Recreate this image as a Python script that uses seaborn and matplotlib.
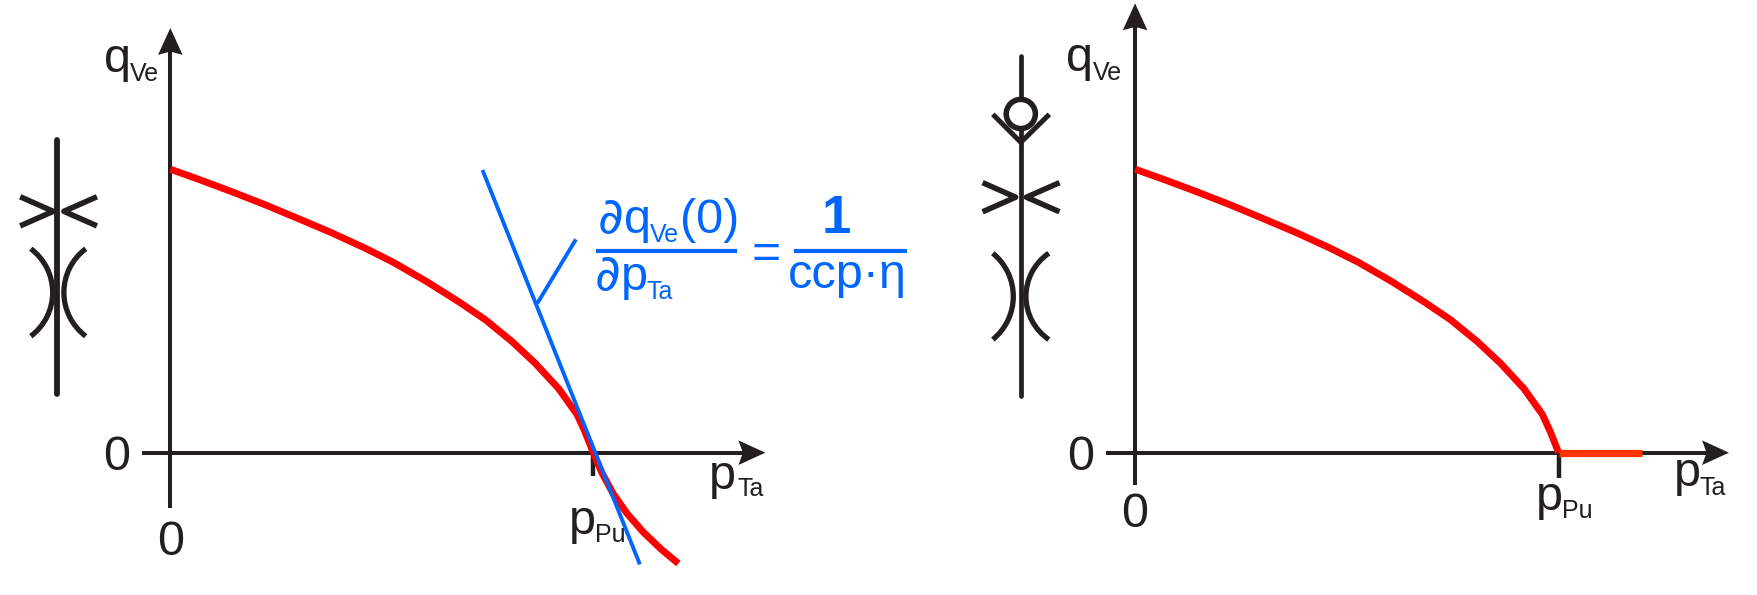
#!/usr/bin/env python3

import numpy as np
import pandas as pd
from matplotlib import pyplot as plt
from matplotlib.patches import Arc, Circle, Polygon
import seaborn as sns

# pressure is in units of p_Pu, flow in units of q_Ve(p=0)
p_left = [0, 0.0657, 0.1447, 0.2234, 0.3021, 0.381, 0.4598, 0.5267, 0.6057, 0.6844, 0.7447, 0.8078,
          0.8629, 0.918, 0.9615, 0.98, 1.0, 1.02, 1.047, 1.08, 1.118, 1.16, 1.201]
q_left = [1, 0.965, 0.921, 0.875, 0.826, 0.776, 0.722, 0.672, 0.604, 0.53, 0.469, 0.392,
          0.315, 0.226, 0.135, 0.075, 0.0, -0.07, -0.145, -0.215, -0.28, -0.34, -0.391]
p_tangent = [0.738, 1.11]
q_tangent = [0.997, -0.394]
p_right = [0, 0.0657, 0.1447, 0.2234, 0.3021, 0.381, 0.4598, 0.5267, 0.6057, 0.6844, 0.7447, 0.8078,
           0.8629, 0.918, 0.9615, 0.98, 1.0]
q_right = [1, 0.965, 0.921, 0.875, 0.826, 0.776, 0.722, 0.672, 0.604, 0.53, 0.469, 0.392,
           0.315, 0.226, 0.135, 0.075, 0.0]
p_flat = [1.0, 1.197]
q_flat = [0, 0]

BLACK = '#231f20'
RED = '#ff0000'
ORANGE = '#ff3300'
BLUE = '#0066ff'
W, H = 1568, 531

sns.set_style('white')
plt.rcParams['font.family'] = ['Liberation Sans', 'DejaVu Sans']

fig = plt.figure(figsize=(17.57, 5.95), dpi=100)

# overlay for axes arrows, symbols and labels
deco = fig.add_axes([0, 0, 1, 1], zorder=0)
deco.set_xlim(0, W)
deco.set_ylim(H, 0)
deco.axis('off')


def line(xs, ys, color=BLACK, lw=2.9, cap='butt', z=2):
    deco.plot(xs, ys, color=color, lw=lw, solid_capstyle=cap, zorder=z)


def arc(x0, y0, xm, y1, lw=3.8):
    # circular arc through both ends and the point nearest the centre line
    sag = abs(xm - x0)
    half = (y1 - y0) / 2
    r = (half ** 2 + sag ** 2) / (2 * sag)
    t = np.degrees(np.arcsin(half / r))
    if xm > x0:
        patch = Arc((xm - r, (y0 + y1) / 2), 2 * r, 2 * r, theta1=-t, theta2=t, color=BLACK, lw=lw, zorder=3)
    else:
        patch = Arc((xm + r, (y0 + y1) / 2), 2 * r, 2 * r, theta1=180 - t, theta2=180 + t, color=BLACK, lw=lw, zorder=3)
    deco.add_patch(patch)


def chevrons(xl, xr, y, spread_x, spread_y, lw=4.0):
    line([xl - spread_x, xl, xl - spread_x], [y - spread_y, y, y + spread_y], lw=lw)
    line([xr + spread_x, xr, xr + spread_x], [y - spread_y, y, y + spread_y], lw=lw)


def label(x, y, main, sub, sub_x, sub_y, color=BLACK):
    deco.text(x, y, main, fontsize=35, color=color, va='baseline', ha='left')
    deco.text(sub_x, sub_y, sub, fontsize=18, color=color, va='baseline', ha='left')


def draw_axes(ox, oy, top, bottom, left, right):
    line([ox, ox], [top + 15, bottom])
    line([left, right - 15], [oy, oy])
    deco.add_patch(Polygon([(ox, top), (ox - 11, top + 24), (ox, top + 21), (ox + 11, top + 24)],
                           fc=BLACK, ec='none', zorder=2))
    deco.add_patch(Polygon([(right, oy), (right - 24, oy - 11), (right - 20, oy), (right - 24, oy + 11)],
                           fc=BLACK, ec='none', zorder=2))


def panel(ox, oy, ux, uy):
    # transparent axes whose data units map onto the drawn axes
    x0, x1, y0, y1 = -0.2, 1.5, -0.5, 1.2
    ax = fig.add_axes([(ox + x0 * ux) / W, (H - oy + y0 * uy) / H,
                       (x1 - x0) * ux / W, (y1 - y0) * uy / H], zorder=1)
    ax.set_xlim(x0, x1)
    ax.set_ylim(y0, y1)
    ax.patch.set_alpha(0)
    ax.axis('off')
    return ax


def curve(ax, ps, qs, color, lw, z=3):
    df = pd.DataFrame({'p': ps, 'q': qs})
    sns.lineplot(data=df, x='p', y='q', ax=ax, color=color, lw=lw, sort=False, estimator=None,
                 legend=False, clip_on=False, solid_capstyle='butt', solid_joinstyle='round', zorder=z)


# left chart
draw_axes(152, 404, 25, 453, 127, 683)
line([529.5, 529.5], [404, 425], lw=3.2)
ax1 = panel(152, 404, 377.5, 253)
curve(ax1, p_left, q_left, RED, 5.0)
curve(ax1, p_tangent, q_tangent, BLUE, 2.8, z=4)

deco.text(104, 404, '0', fontsize=35, color=BLACK, ha='center', va='center_baseline')
deco.text(152, 480, '0', fontsize=35, color=BLACK, ha='center', va='center_baseline')
label(93, 64, 'q', 'Ve', 116, 72)
label(633, 436, 'p', 'Ta', 658, 443)
label(508, 477, 'p', 'Pu', 531, 484)

# blue derivative formula
line([479.5, 514], [270.7, 213.6], color=BLUE, lw=2.8)
line([531.6, 658], [223.7, 223.7], color=BLUE, lw=3.0)
line([708.6, 809.8], [223.7, 223.7], color=BLUE, lw=3.0)
deco.text(533, 208, '\u2202', fontsize=36, color=BLUE, style='italic', family=['DejaVu Sans'])
deco.text(557, 208, 'q', fontsize=35, color=BLUE)
deco.text(580, 215.7, 'Ve', fontsize=18, color=BLUE)
deco.text(607, 208, '(0)', fontsize=35, color=BLUE)
deco.text(531, 259, '\u2202', fontsize=36, color=BLUE, style='italic', family=['DejaVu Sans'])
deco.text(554, 259, 'p', fontsize=35, color=BLUE)
deco.text(577, 267, 'Ta', fontsize=18, color=BLUE)
deco.text(683.5, 223, '=', fontsize=36, color=BLUE, ha='center', va='center_baseline')
deco.text(746.7, 208, '1', fontsize=38, color=BLUE, weight='bold', ha='center')
deco.text(756.5, 257, 'ccp\u00b7\u03b7', fontsize=35, color=BLUE, ha='center')

# left symbol
line([51, 51], [125, 352], lw=4.2, cap='round')
chevrons(47.5, 57, 188.6, 29.5, 13)
arc(27.5, 222, 47, 300)
arc(76.5, 222, 57, 300)

# right chart
draw_axes(1013, 404, 3, 433, 987, 1543)
line([1391, 1391], [404, 427], lw=3.2)
ax2 = panel(1013, 404, 378, 253)
curve(ax2, p_right, q_right, RED, 5.0)
curve(ax2, p_flat, q_flat, ORANGE, 5.2)

deco.text(964, 404, '0', fontsize=35, color=BLACK, ha='center', va='center_baseline')
deco.text(1013, 455, '0', fontsize=35, color=BLACK, ha='center', va='center_baseline')
label(951, 63, 'q', 'Ve', 975, 71)
label(1494, 434, 'p', 'Ta', 1517, 442)
label(1371, 455, 'p', 'Pu', 1394, 462.5)

# right symbol
line([911, 911], [50, 353], lw=3.4, cap='round')
deco.add_patch(Circle((911, 101.7), 13, fc='white', ec=BLACK, lw=4.0, zorder=4))
line([886, 911, 936.5], [102, 127, 102], lw=3.6, z=3)
chevrons(906.4, 916, 176, 29.5, 13)
arc(886, 226, 904.3, 303)
arc(936, 226, 915.6, 303)

plt.savefig('out.png', dpi=100, facecolor='white')
